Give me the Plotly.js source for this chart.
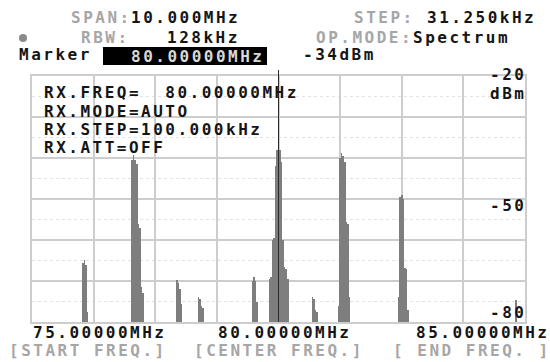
<!DOCTYPE html>
<html>
<head>
<meta charset="utf-8">
<script src="https://cdn.plot.ly/plotly-3.0.1.min.js"></script>
<style>
html,body{margin:0;padding:0;background:#fff;}
#chart{width:550px;height:362px;}
svg text{letter-spacing:2.5px;}
</style>
</head>
<body>
<div id="chart"></div>
<script>
// ---- data ----
const freqMHz = [
  76.031, 76.063, 76.094, 76.125,
  77.031, 77.063, 77.094, 77.125, 77.156, 77.188, 77.219, 77.250,
  77.938, 77.969, 78.000, 78.031,
  78.375, 78.406, 78.438, 78.469,
  79.469, 79.500, 79.531, 79.563,
  79.813, 79.844, 79.875, 79.906, 79.938, 79.969, 80.000, 80.031, 80.063, 80.094, 80.125, 80.156, 80.188,
  80.688, 80.719, 80.750, 80.781,
  81.219, 81.250, 81.281, 81.313, 81.344, 81.375, 81.406, 81.438,
  82.438, 82.469, 82.500, 82.531, 82.563, 82.594, 82.625,
  84.813
];
const levelDBm = [
  -65.5, -64.9, -66, -77.5,
  -40.5, -39.3, -40.5, -41.5, -56, -57, -71.5, -73,
  -69.8, -70.5, -72, -75.5,
  -74, -74.5, -76, -76.5,
  -70, -69, -70, -75,
  -69.5, -69, -60, -59.5, -42, -38, -34.5, -38, -41, -60, -66.5, -67, -69.5,
  -74, -74.5, -77, -77.5,
  -76, -40, -38.8, -39.5, -41, -55.6, -56, -74,
  -74, -49.5, -49, -50, -66.8, -67, -77,
  -74.6
];
const startFreq = 75, centerFreq = 80, endFreq = 85;
const refLevel = -20, floorLevel = -80, dbPerDiv = 10;
const sweepStepMHz = 0.03125;
const markerFreq = 80, markerLevelText = '-34dBm', markerFreqText = '80.00000MHz';
const xTickText = ['75.00000MHz', '80.00000MHz', '85.00000MHz'];
const xRoleText = ['[START FREQ.]', '[CENTER FREQ.]', '[ END FREQ. ]'];
const yTickText = ['-20', '-50', '-80'];
const rxLines = ['RX.FREQ=\u00A0\u00A080.00000MHz', 'RX.MODE=AUTO', 'RX.STEP=100.000kHz', 'RX.ATT=OFF'];

// ---- layout helpers (pixel -> paper) ----
const L = 32, R = 525, T = 76, B = 322;
const px = x => (x - L) / (R - L);
const py = y => (B - y) / (B - T);
const FAM = 'DejaVu Sans Mono';
const BLACK = '#151515', GRAY = '#a6a6a6';
function txt(s, x, y, color, anchor, extra) {
  return Object.assign({
    text: s, xref: 'paper', yref: 'paper', x: px(x), y: py(y),
    xanchor: anchor || 'left', yanchor: 'middle', showarrow: false,
    borderpad: 0, font: {family: FAM, size: 16, color: color, weight: 'bold'}
  }, extra || {});
}

const ann = [
  txt('SPAN:', 70, 18, GRAY), txt('10.000MHz', 130, 18, BLACK),
  txt('RBW:', 80, 37, GRAY), txt('128kHz', 166, 37, BLACK),
  txt('STEP:', 353, 18, GRAY), txt('31.250kHz', 426, 18, BLACK),
  txt('OP.MODE:', 315, 37, GRAY), txt('Spectrum', 412, 37, BLACK),
  txt('Marker', 18, 55, BLACK),
  txt(markerFreqText, 130, 56, '#d8d8d8'),
  txt(markerLevelText, 302, 55, BLACK),
  txt(rxLines[0], 43, 92, BLACK), txt(rxLines[1], 43, 111, BLACK),
  txt(rxLines[2], 43, 129, BLACK), txt(rxLines[3], 43, 147, BLACK),
  txt(yTickText[0], 527, 75, BLACK, 'right'),
  txt('dBm', 527, 94, BLACK, 'right'),
  txt(yTickText[1], 527, 205, BLACK, 'right'),
  txt(yTickText[2], 527, 312, BLACK, 'right'),
  txt(xTickText[0], 32, 332, BLACK), txt(xTickText[1], 217, 332, BLACK), txt(xTickText[2], 415, 332, BLACK),
  txt(xRoleText[0], 8, 350, GRAY), txt(xRoleText[1], 193, 350, GRAY), txt(xRoleText[2], 392, 350, GRAY)
];

const shapes = [
  {type: 'rect', xref: 'paper', yref: 'paper', x0: px(103), x1: px(267), y0: py(65), y1: py(47),
   fillcolor: '#000', line: {width: 0}},
  {type: 'circle', xref: 'paper', yref: 'paper', x0: px(19), x1: px(27), y0: py(42), y1: py(34),
   fillcolor: '#8a8a8a', line: {width: 0}},
  {type: 'line', xref: 'x', yref: 'paper', x0: markerFreq, x1: markerFreq, y0: 0, y1: py(70),
   line: {color: '#2a2a2a', width: 1}, layer: 'above'}
];

const bars = {
  type: 'bar', x: freqMHz, y: levelDBm.map(v => v - floorLevel), base: floorLevel,
  width: sweepStepMHz, marker: {color: '#7e7e7e', line: {width: 0}},
  hoverinfo: 'skip', showlegend: false
};
const markerTri = {
  type: 'scatter', mode: 'markers', x: [markerFreq], y: [refLevel + 1.6],
  marker: {symbol: 'triangle-down', size: 10, color: '#000'},
  cliponaxis: false, hoverinfo: 'skip', showlegend: false
};

const layout = {
  width: 550, height: 362,
  margin: {l: L, r: 550 - R, t: T, b: 362 - B, pad: 0},
  paper_bgcolor: '#fff', plot_bgcolor: '#fff',
  showlegend: false, bargap: 0,
  xaxis: {range: [startFreq, endFreq], dtick: (endFreq - startFreq) / 8, tick0: startFreq,
    showgrid: true, gridcolor: '#cdcdcd', gridwidth: 2, zeroline: false,
    showticklabels: false, ticks: '', showline: true, mirror: true, linecolor: '#cdcdcd', linewidth: 2},
  yaxis: {range: [floorLevel, refLevel], dtick: dbPerDiv, tick0: floorLevel,
    showgrid: true, gridcolor: '#cdcdcd', gridwidth: 2, zeroline: false,
    showticklabels: false, ticks: '', showline: true, mirror: true, linecolor: '#cdcdcd', linewidth: 2,
    minor: {dtick: dbPerDiv / 2, showgrid: true, gridcolor: '#e2e2e2', griddash: 'dot', gridwidth: 1}},
  annotations: ann,
  shapes: shapes
};

Plotly.newPlot('chart', [bars, markerTri], layout, {staticPlot: true, displayModeBar: false});
</script>
</body>
</html>
